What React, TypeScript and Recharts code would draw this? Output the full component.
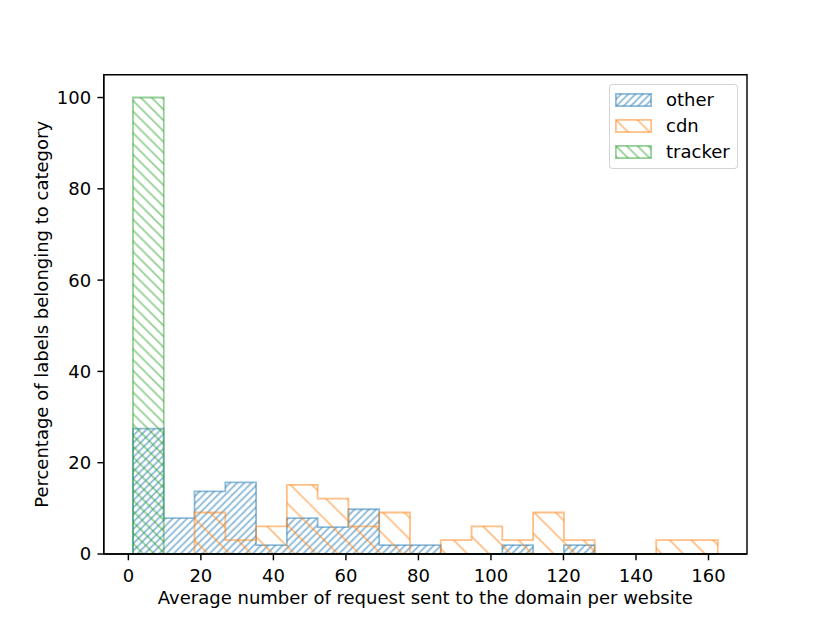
import React from 'react';
import { ComposedChart, Area, XAxis, YAxis, Legend, Label, ReferenceArea } from 'recharts';

// Histogram bin edges (19 equal-width bins)
const binEdges = [
  1.27, 9.76, 18.25, 26.74, 35.23, 43.71, 52.2, 60.69, 69.18, 77.67,
  86.16, 94.65, 103.14, 111.63, 120.12, 128.6, 137.09, 145.58, 154.07, 162.56,
];

// Percentage of labels per bin, per category
const otherPct = [27.45, 7.84, 13.73, 15.69, 1.96, 7.84, 5.88, 9.8, 1.96, 1.96, 0, 0, 1.96, 0, 1.96, 0, 0, 0, 0];
const cdnPct = [0, 0, 9.09, 3.03, 6.06, 15.15, 12.12, 6.06, 9.09, 0, 3.03, 6.06, 3.03, 9.09, 3.03, 0, 0, 3.03, 3.03];
const trackerPct = [100, 0, 0, 0, 0, 0, 0, 0, 0, 0, 0, 0, 0, 0, 0, 0, 0, 0, 0];

const xTicks = [0, 20, 40, 60, 80, 100, 120, 140, 160];
const yTicks = [0, 20, 40, 60, 80, 100];
const xDomain: [number, number] = [-6.79, 170.62];
const yDomain: [number, number] = [0, 105];

const xLabel = 'Average number of request sent to the domain per website';
const yLabel = 'Percentage of labels belonging to category';

type SeriesDef = {
  key: string;
  name: string;
  values: number[];
  color: string;
  spacing: number;
  dir: 'ne' | 'se';
};

const series: SeriesDef[] = [
  { key: 'other', name: 'other', values: otherPct, color: '#1f77b4', spacing: 7.2, dir: 'ne' },
  { key: 'cdn', name: 'cdn', values: cdnPct, color: '#ff7f0e', spacing: 21.6, dir: 'se' },
  { key: 'tracker', name: 'tracker', values: trackerPct, color: '#2ca02c', spacing: 10.8, dir: 'se' },
];

// step outline vertices (matplotlib histtype="step")
const stepRows = binEdges.flatMap((edge, i) => {
  const last = binEdges.length - 1;
  const before: Record<string, number> = { x: edge };
  const after: Record<string, number> = { x: edge };
  series.forEach((s) => {
    before[s.key] = i === 0 ? 0 : s.values[i - 1];
    after[s.key] = i === last ? 0 : s.values[i];
  });
  return [before, after];
});

const FONT = '"DejaVu Sans", Verdana, sans-serif';
const LW = 1.8;
const ALPHA = 0.5;

function hatchPath(s: number, dir: 'ne' | 'se') {
  if (dir === 'ne') {
    return `M${-2},${2} L${2},${-2} M0,${s} L${s},0 M${s - 2},${s + 2} L${s + 2},${s - 2}`;
  }
  return `M0,0 L${s},${s} M${-2},${s - 2} L${2},${s + 2} M${s - 2},${-2} L${s + 2},${2}`;
}

function HatchPattern({ id, s }: { id: string; s: SeriesDef }) {
  return (
    <pattern id={id} patternUnits="userSpaceOnUse" width={s.spacing} height={s.spacing}>
      <path d={hatchPath(s.spacing, s.dir)} stroke={s.color} strokeOpacity={ALPHA} strokeWidth={LW} fill="none" />
    </pattern>
  );
}

function LegendContent() {
  return (
    <div
      style={{
        boxSizing: 'border-box',
        width: 129,
        height: 85,
        border: '1.5px solid rgba(204,204,204,0.85)',
        borderRadius: 4,
        background: 'rgba(255,255,255,0.8)',
        padding: '2px 0 0 5px',
        fontFamily: FONT,
        fontSize: 18,
        color: '#000',
      }}
    >
      {series.map((s) => (
        <div key={s.key} style={{ display: 'flex', alignItems: 'center', height: 26 }}>
          <svg width={37} height={14} style={{ display: 'block', flex: 'none' }}>
            <defs>
              <HatchPattern id={`lg-${s.key}`} s={s} />
            </defs>
            <rect
              x={0.9}
              y={0.9}
              width={35.2}
              height={12.2}
              fill={`url(#lg-${s.key})`}
              stroke={s.color}
              strokeOpacity={ALPHA}
              strokeWidth={LW}
            />
          </svg>
          <span style={{ marginLeft: 14, lineHeight: '18px' }}>{s.name}</span>
        </div>
      ))}
    </div>
  );
}

const tickStyle = { fontFamily: FONT, fontSize: 18, fill: '#000' };
const axisStroke = { stroke: '#000', strokeWidth: 1.44 };

export default function App() {
  return (
    <div style={{ position: 'absolute', left: 0, top: 0, width: 830, height: 623, background: '#fff' }}>
      <ComposedChart
        width={830}
        height={623}
        data={stepRows}
        margin={{ top: 74.7, right: 83, bottom: 0, left: 0 }}
      >
        <defs>
          {series.map((s) => (
            <HatchPattern key={s.key} id={`h-${s.key}`} s={s} />
          ))}
        </defs>
        <XAxis
          xAxisId="bottom"
          dataKey="x"
          type="number"
          domain={xDomain}
          ticks={xTicks}
          interval={0}
          height={69}
          tick={tickStyle}
          tickSize={6.3}
          tickMargin={8.5}
          tickLine={axisStroke}
          axisLine={axisStroke}
        >
          <Label
            content={(props: any) => {
              const vb = props.viewBox || {};
              return (
                <text x={vb.x + vb.width / 2} y={vb.y + 50} textAnchor="middle" fontFamily={FONT} fontSize={18} fill="#000">
                  {xLabel}
                </text>
              );
            }}
          />
        </XAxis>
        <YAxis
          yAxisId="left"
          type="number"
          domain={yDomain}
          ticks={yTicks}
          interval={0}
          width={103.75}
          tick={tickStyle}
          tickSize={6.3}
          tickMargin={6.3}
          tickLine={axisStroke}
          axisLine={axisStroke}
        >
          <Label
            content={(props: any) => {
              const vb = props.viewBox || {};
              const cx = 48;
              const cy = vb.y + vb.height / 2;
              return (
                <text
                  x={cx}
                  y={cy}
                  transform={`rotate(-90 ${cx} ${cy})`}
                  textAnchor="middle"
                  fontFamily={FONT}
                  fontSize={18}
                  fill="#000"
                >
                  {yLabel}
                </text>
              );
            }}
          />
        </YAxis>
        {series.map((s) => (
          <Area
            key={s.key}
            xAxisId="bottom"
            yAxisId="left"
            type="linear"
            dataKey={s.key}
            name={s.name}
            stroke={s.color}
            strokeOpacity={ALPHA}
            strokeWidth={LW}
            fill={`url(#h-${s.key})`}
            fillOpacity={1}
            dot={false}
            activeDot={false}
            isAnimationActive={false}
          />
        ))}
        <ReferenceArea
          xAxisId="bottom"
          yAxisId="left"
          x1={xDomain[0]}
          x2={xDomain[1]}
          y1={yDomain[0]}
          y2={yDomain[1]}
          fill="none"
          fillOpacity={0}
          stroke="#000"
          strokeWidth={1.44}
          strokeOpacity={1}
          ifOverflow="visible"
        />
        <Legend
          layout="horizontal"
          verticalAlign="middle"
          align="center"
          content={() => <LegendContent />}
          wrapperStyle={{ position: 'absolute', left: 609, top: 83.7, width: 129, height: 85, margin: 0 }}
        />
      </ComposedChart>
    </div>
  );
}
